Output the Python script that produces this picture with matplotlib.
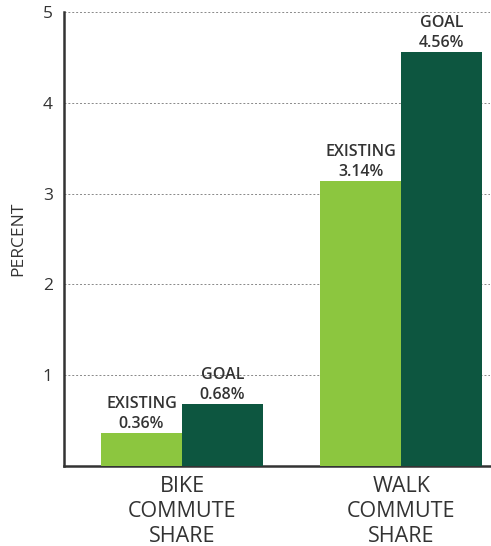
import matplotlib
matplotlib.use("Agg")
import matplotlib.pyplot as plt
import numpy as np

categories = ["BIKE\nCOMMUTE\nSHARE", "WALK\nCOMMUTE\nSHARE"]
existing = [0.36, 3.14]
goal = [0.68, 4.56]
existing_labels = ["EXISTING\n0.36%", "EXISTING\n3.14%"]
goal_labels = ["GOAL\n0.68%", "GOAL\n4.56%"]
yticks = [1, 2, 3, 4, 5]

plt.rcParams['font.family'] = ['Open Sans', 'DejaVu Sans']
light = "#8cc63f"
dark = "#0d5640"
txt = "#333333"

fig = plt.figure(figsize=(4.91, 5.46), dpi=100)
ax = fig.add_axes([0.1303, 0.1465, 0.868, 0.8315])

x = np.arange(len(categories))
w = 0.37
b1 = ax.bar(x - w/2, existing, w, color=light, zorder=3)
b2 = ax.bar(x + w/2, goal, w, color=dark, zorder=3)

for rect, lab in zip(list(b1) + list(b2), existing_labels + goal_labels):
    ax.annotate(lab, (rect.get_x() + rect.get_width()/2, rect.get_height()),
                xytext=(0, 1.0), textcoords="offset points", ha="center", va="bottom",
                fontsize=11.5, fontweight="semibold", color=txt, linespacing=1.3)

ax.set_xlim(-0.539, 1.406)
ax.set_ylim(0, 5)
ax.set_yticks(yticks)
ax.set_yticklabels([str(t) for t in yticks], fontsize=12.5, color=txt)
ax.set_xticks(x)
ax.set_xticklabels(categories, fontsize=15.5, color=txt, linespacing=1.24)
ax.tick_params(axis="both", length=0)
ax.tick_params(axis="y", pad=8)
ax.tick_params(axis="x", pad=7.5)
ax.yaxis.grid(True, linestyle=(0, (2, 2)), color="#888888", linewidth=0.7, zorder=0)
ax.set_axisbelow(True)
for s in ["top", "right"]:
    ax.spines[s].set_visible(False)
for s in ["left", "bottom"]:
    ax.spines[s].set_color("#333333")
    ax.spines[s].set_linewidth(1.8)
ax.set_ylabel("PERCENT", fontsize=12.5, color=txt, labelpad=12)

fig.savefig("out.png", dpi=100)
